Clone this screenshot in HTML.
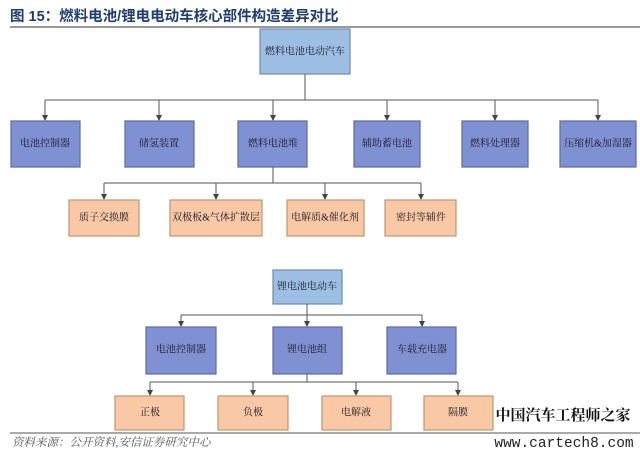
<!DOCTYPE html>
<html><head><meta charset="utf-8"><style>
html,body{margin:0;padding:0;background:#fff;}
svg{display:block;}
text{font-family:"Liberation Serif","Noto Serif CJK SC",serif;font-size:10px;fill:#1a1a2a;text-anchor:middle;dominant-baseline:central;}
.b{fill:#9dbfe3;stroke:#6f8cb0;stroke-width:1.2;}
.m{fill:#7f91d2;stroke:#5a6aa6;stroke-width:1.2;}
.o{fill:#f8c9a4;stroke:#c4946e;stroke-width:1.2;}
.l{stroke:#555;stroke-width:1;fill:none;}
</style></head><body>
<svg width="640" height="455" viewBox="0 0 640 455">
<defs><marker id="a" markerWidth="6" markerHeight="6" refX="3" refY="5" markerUnits="userSpaceOnUse"><path d="M0,0 L6,0 L3,6 z" fill="#444"/></marker></defs>
<text x="10" y="17" style="text-anchor:start;font-family:'Liberation Sans','Noto Sans CJK SC',sans-serif;font-size:14.5px;font-weight:bold;fill:#1f3e6e">图 15：燃料电池/锂电电动车核心部件构造差异对比</text>
<line x1="10" y1="27" x2="640" y2="27" stroke="#333" stroke-width="1"/>
<rect class="b" x="260" y="29" width="90" height="45"/><text x="305" y="52">燃料电池电动汽车</text>
<path class="l" d="M305,74 V100 M45,100 H598"/>
<g class="l">
<line x1="45" y1="100" x2="45" y2="120" marker-end="url(#a)"/>
<line x1="159" y1="100" x2="159" y2="120" marker-end="url(#a)"/>
<line x1="273" y1="100" x2="273" y2="120" marker-end="url(#a)"/>
<line x1="387" y1="100" x2="387" y2="120" marker-end="url(#a)"/>
<line x1="495" y1="100" x2="495" y2="120" marker-end="url(#a)"/>
<line x1="598" y1="100" x2="598" y2="120" marker-end="url(#a)"/>
</g>
<rect class="m" x="11" y="121" width="69" height="46"/><text x="45" y="144">电池控制器</text>
<rect class="m" x="125" y="121" width="69" height="46"/><text x="159" y="144">储氢装置</text>
<rect class="m" x="238" y="121" width="69" height="46"/><text x="273" y="144">燃料电池堆</text>
<rect class="m" x="354" y="121" width="66" height="46"/><text x="387" y="144">辅助蓄电池</text>
<rect class="m" x="462" y="121" width="66" height="46"/><text x="495" y="144">燃料处理器</text>
<rect class="m" x="560" y="121" width="76" height="46"/><text x="598" y="144">压缩机&amp;加湿器</text>
<path class="l" d="M273,167 V183 M104,183 H421"/>
<g class="l">
<line x1="104" y1="183" x2="104" y2="199" marker-end="url(#a)"/>
<line x1="216" y1="183" x2="216" y2="199" marker-end="url(#a)"/>
<line x1="325" y1="183" x2="325" y2="199" marker-end="url(#a)"/>
<line x1="421" y1="183" x2="421" y2="199" marker-end="url(#a)"/>
</g>
<rect class="o" x="69" y="200" width="70" height="36"/><text x="104" y="218">质子交换膜</text>
<rect class="o" x="170" y="200" width="92" height="36"/><text x="216" y="218">双极板&amp;气体扩散层</text>
<rect class="o" x="287" y="200" width="77" height="36"/><text x="325" y="218">电解质&amp;催化剂</text>
<rect class="o" x="385" y="200" width="71" height="36"/><text x="421" y="218">密封等辅件</text>
<rect class="b" x="273" y="270" width="69" height="34"/><text x="307" y="287">锂电池电动车</text>
<path class="l" d="M307,304 V315 M181,315 H422"/>
<g class="l">
<line x1="181" y1="315" x2="181" y2="326" marker-end="url(#a)"/>
<line x1="307" y1="315" x2="307" y2="326" marker-end="url(#a)"/>
<line x1="422" y1="315" x2="422" y2="326" marker-end="url(#a)"/>
</g>
<rect class="m" x="146" y="327" width="70" height="47"/><text x="181" y="350">电池控制器</text>
<rect class="m" x="273" y="327" width="69" height="47"/><text x="307" y="350">锂电池组</text>
<rect class="m" x="387" y="327" width="69" height="47"/><text x="422" y="350">车载充电器</text>
<path class="l" d="M307,374 V382 M150,382 H458"/>
<g class="l">
<line x1="150" y1="382" x2="150" y2="395" marker-end="url(#a)"/>
<line x1="253" y1="382" x2="253" y2="395" marker-end="url(#a)"/>
<line x1="356" y1="382" x2="356" y2="395" marker-end="url(#a)"/>
<line x1="458" y1="382" x2="458" y2="395" marker-end="url(#a)"/>
</g>
<rect class="o" x="115" y="396" width="69" height="34"/><text x="150" y="413">正极</text>
<rect class="o" x="218" y="396" width="70" height="34"/><text x="253" y="413">负极</text>
<rect class="o" x="322" y="396" width="69" height="34"/><text x="356" y="413">电解液</text>
<rect class="o" x="424" y="396" width="69" height="34"/><text x="458" y="413">隔膜</text>
<line x1="10" y1="433" x2="640" y2="433" stroke="#555" stroke-width="1"/>
<text x="12" y="443" style="text-anchor:start;font-size:11.5px;font-style:italic;fill:#555">资料来源：公开资料,安信证券研究中心</text>
<text x="563" y="416" style="font-size:15px;font-weight:bold;fill:#111">中国汽车工程师之家</text>
<text x="564" y="444" style="font-family:'Liberation Mono',monospace;font-size:14.5px;fill:#222">www.cartech8.com</text>
</svg>
</body></html>
